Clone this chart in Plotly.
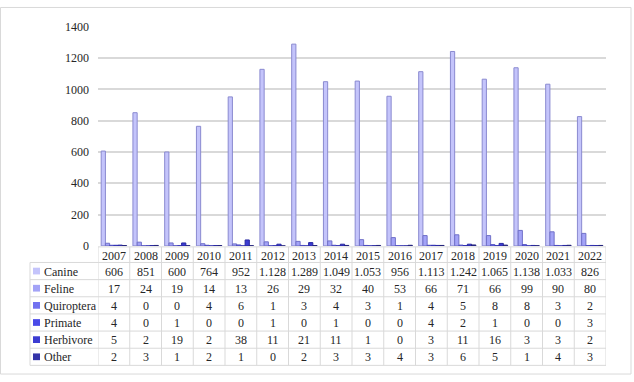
import plotly.graph_objects as go

years = ["2007", "2008", "2009", "2010", "2011", "2012", "2013", "2014",
         "2015", "2016", "2017", "2018", "2019", "2020", "2021", "2022"]
canine = [606, 851, 600, 764, 952, 1128, 1289, 1049, 1053, 956, 1113, 1242, 1065, 1138, 1033, 826]
feline = [17, 24, 19, 14, 13, 26, 29, 32, 40, 53, 66, 71, 66, 99, 90, 80]
quiroptera = [4, 0, 0, 4, 6, 1, 3, 4, 3, 1, 4, 5, 8, 8, 3, 2]
primate = [4, 0, 1, 0, 0, 1, 0, 1, 0, 0, 4, 2, 1, 0, 0, 3]
herbivore = [5, 2, 19, 2, 38, 11, 21, 11, 1, 0, 3, 11, 16, 3, 3, 2]
other = [2, 3, 1, 2, 1, 0, 2, 3, 3, 4, 3, 6, 5, 1, 4, 3]
series_names = ["Canine", "Feline", "Quiroptera", "Primate", "Herbivore", "Other"]
series_values = [canine, feline, quiroptera, primate, herbivore, other]
y_ticks = [0, 200, 400, 600, 800, 1000, 1200, 1400]

face_colors = ["#c4c4fb", "#a3a3f7", "#7272f0", "#4a4ae8", "#3c3cd2", "#3434a8"]
edge_colors = ["#8a8ad0", "#7070c8", "#4c4cc0", "#3030b0", "#2828a0", "#22227a"]

W, H = 634, 382
FONT = "Liberation Serif"
TXT = "#262626"
GRID = "#d9d9d9"


def px(p):
    return p / W


def py(p):
    return 1 - p / H


fig = go.Figure()
for name, vals, fc, ec in zip(series_names, series_values, face_colors, edge_colors):
    fig.add_trace(go.Bar(x=years, y=vals, name=name,
                         marker=dict(color=fc, line=dict(color=ec, width=1))))

shapes = []
annotations = []

# outer chart frame
shapes.append(dict(type="rect", xref="paper", yref="paper",
                   x0=px(0.5), x1=px(631), y0=py(381), y1=py(0.5),
                   line=dict(color=GRID, width=1)))

# table geometry (pixels)
header_top = 249
row_top = 265.2
row_h = 17.8
n_rows = len(series_names)
table_bottom = row_top + n_rows * row_h
label_left = 30
col_left = 98
col_right = 606

shapes.append(dict(type="line", xref="paper", yref="paper",
                   x0=px(col_left), x1=px(col_right), y0=py(header_top), y1=py(header_top),
                   line=dict(color=GRID, width=1)))
for i in range(n_rows + 1):
    yy = row_top + i * row_h
    shapes.append(dict(type="line", xref="paper", yref="paper",
                       x0=px(label_left), x1=px(col_right), y0=py(yy), y1=py(yy),
                       line=dict(color=GRID, width=1)))
for k in range(len(years) + 1):
    shapes.append(dict(type="line", xref="x", yref="paper",
                       x0=k - 0.5, x1=k - 0.5, y0=py(header_top), y1=py(table_bottom),
                       line=dict(color=GRID, width=1)))
shapes.append(dict(type="line", xref="paper", yref="paper",
                   x0=px(label_left), x1=px(label_left), y0=py(row_top), y1=py(table_bottom),
                   line=dict(color=GRID, width=1)))

for k, yr in enumerate(years):
    annotations.append(dict(x=k, xref="x", y=py((header_top + row_top) / 2 + 1), yref="paper",
                            text=yr, showarrow=False, xanchor="center", yanchor="middle",
                            font=dict(family=FONT, size=12, color=TXT)))


def fmt(v):
    return f"{v:,}".replace(",", ".")


for i, (name, vals, fc) in enumerate(zip(series_names, series_values, face_colors)):
    yc = row_top + i * row_h + row_h / 2
    shapes.append(dict(type="rect", xref="paper", yref="paper",
                       x0=px(33), x1=px(40), y0=py(yc + 3.5), y1=py(yc - 3.5),
                       fillcolor=fc, line=dict(width=0)))
    annotations.append(dict(x=px(42), xref="paper", y=py(yc + 0.5), yref="paper",
                            text=name, showarrow=False, xanchor="left", yanchor="middle",
                            font=dict(family=FONT, size=12, color=TXT)))
    for k, v in enumerate(vals):
        annotations.append(dict(x=k, xref="x", y=py(yc + 0.5), yref="paper",
                                text=fmt(v), showarrow=False, xanchor="center", yanchor="middle",
                                font=dict(family=FONT, size=12, color=TXT)))

fig.update_layout(
    width=W, height=H,
    margin=dict(l=0, r=0, t=0, b=0),
    font=dict(family=FONT, size=12, color=TXT),
    paper_bgcolor="white", plot_bgcolor="white",
    barmode="group", bargap=0.2, bargroupgap=0.0,
    showlegend=False,
    xaxis=dict(type="category", domain=[px(col_left), px(col_right)], range=[-0.5, len(years) - 0.5],
               showticklabels=False, showgrid=False, zeroline=False, showline=False,
               fixedrange=True),
    yaxis=dict(domain=[py(248), py(20.5)], range=[0, 1400], tickvals=y_ticks,
               showgrid=True, gridcolor=GRID, gridwidth=1.5, zeroline=False, showline=False,
               ticks="", ticklabelstandoff=8,
               tickfont=dict(family=FONT, size=12, color=TXT), fixedrange=True),
    shapes=shapes,
    annotations=annotations,
)

fig.write_html("out.html", config={"displayModeBar": False},
               post_script="document.body.style.margin='0';document.body.style.overflow='hidden';")
